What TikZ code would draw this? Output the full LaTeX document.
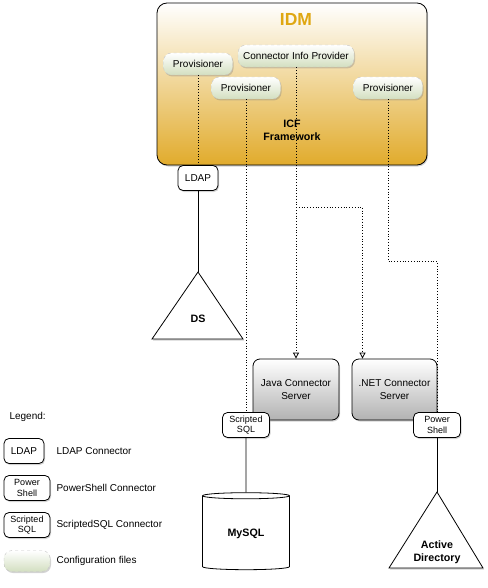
\documentclass[tikz,border=0pt]{standalone}
\usepackage{fontspec}
\setmainfont{Liberation Sans}
\usetikzlibrary{shapes.geometric,shadows,arrows.meta}
\definecolor{idmgold}{HTML}{DFA712}
\definecolor{idmmid}{HTML}{F1D69C}
\definecolor{idmbottom}{HTML}{E1AB2C}
\definecolor{cfggreen}{HTML}{D3DFC0}
\definecolor{srvgray}{HTML}{B2B2B2}
\tikzset{
  softshadow/.style={drop shadow={opacity=0.35, shadow xshift=1pt, shadow yshift=-1.5pt}},
  connbox/.style={draw, line width=0.8pt, rounded corners=5pt, fill=white, softshadow,
    align=center, inner sep=0pt, minimum height=25, font=\fontsize{9}{10.5}\selectfont},
  cfgfile/.style={draw=gray!45, dashed, rounded corners=8pt, top color=white, bottom color=cfggreen,
    softshadow, inner sep=0pt, minimum height=22, font=\fontsize{10}{11}\selectfont},
  server/.style={draw, line width=0.8pt, rounded corners=7pt, top color=white, bottom color=srvgray,
    softshadow, align=center, inner sep=0pt, minimum height=61, font=\fontsize{10}{13}\selectfont},
  target/.style={font=\bfseries\fontsize{10.7}{13}\selectfont, align=center},
  legendtext/.style={anchor=west, font=\fontsize{10}{11}\selectfont},
  link/.style={dotted, line width=0.8pt},
  wire/.style={line width=0.8pt},
}
\begin{document}
\begin{tikzpicture}[x=1pt,y=-1pt]
\useasboundingbox (0,0) rectangle (487,588);

% IDM with its configuration files
\node[draw, line width=0.8pt, rounded corners=10pt, top color=white, middle color=idmmid,
  bottom color=idmbottom, softshadow, minimum width=270, minimum height=162] (idm) at (292,84) {};
\node[font=\bfseries\fontsize{17.5}{20}\selectfont, text=idmgold] (idmlabel) at (296,19) {IDM};
\node[cfgfile, minimum width=116] (cip) at (296,56) {Connector Info Provider};
\node[cfgfile, minimum width=69] (prov1) at (198,64) {Provisioner};
\node[cfgfile, minimum width=69] (prov2) at (246,88) {Provisioner};
\node[cfgfile, minimum width=69] (prov3) at (388,88) {Provisioner};
\node[target] (icf) at (292,130) {ICF\\Framework};

% connector servers
\node[server, minimum width=86] (java) at (296,389.5) {Java Connector\\Server};
\node[server, minimum width=85] (net) at (394.5,389.5) {.NET Connector\\Server};

% connectors
\node[connbox, minimum width=40, font=\fontsize{10}{11}\selectfont] (ldap) at (198,178) {LDAP};
\node[connbox, minimum width=47] (sql) at (246,425) {Scripted\\SQL};
\node[connbox, minimum width=47] (ps) at (437,425) {Power\\Shell};

% resources
\coordinate (ds) at (198,272);
\draw[wire, fill=white, softshadow] (ds) -- (243,339) -- (152,339) -- cycle;
\node[target] (dslabel) at (198,319) {DS};
\node[draw, line width=0.8pt, cylinder, shape border rotate=90, aspect=0.14, fill=white,
  minimum width=87, minimum height=77, target] (mysql) at (246,533.5) {MySQL};
\coordinate (ad) at (437,492);
\draw[wire, fill=white, softshadow] (ad) -- (483,568) -- (389,568) -- cycle;
\node[target] (adlabel) at (437,552) {Active\\Directory};

% links
\coordinate (split) at (296,207);
\coordinate (bend) at (388,261);
\draw[link] (prov1.south) -- (ldap.north);
\draw[link] (prov2.south) -- (sql.north);
\draw[link, -{Triangle[open, length=6pt, width=6pt]}] (cip.south) -- (java.north);
\draw[link, -{Triangle[open, length=6pt, width=6pt]}] (split) -| ([xshift=-32]net.north);
\draw[link] (prov3.south) -- (bend) -| (ps.north);
\draw[wire] (ldap.south) -- (ds);
\draw[wire] (sql.south) -- (mysql.north);
\draw[wire] (ps.south) -- (ad);

% legend
\node[legendtext] (legend) at (6,417) {Legend:};
\node[connbox, minimum width=40, font=\fontsize{10}{11}\selectfont] (ldapkey) at (24,451) {LDAP};
\node[legendtext] (ldapkeytext) at (53,451) {LDAP Connector};
\node[connbox, minimum width=46] (pskey) at (27,488) {Power\\Shell};
\node[legendtext] (pskeytext) at (53,488) {PowerShell Connector};
\node[connbox, minimum width=46] (sqlkey) at (27,525) {Scripted\\SQL};
\node[legendtext] (sqlkeytext) at (53,525) {ScriptedSQL Connector};
\node[cfgfile, minimum width=46, minimum height=21] (cfgkey) at (27,561) {};
\node[legendtext] (cfgkeytext) at (53,561) {Configuration files};
\end{tikzpicture}
\end{document}
